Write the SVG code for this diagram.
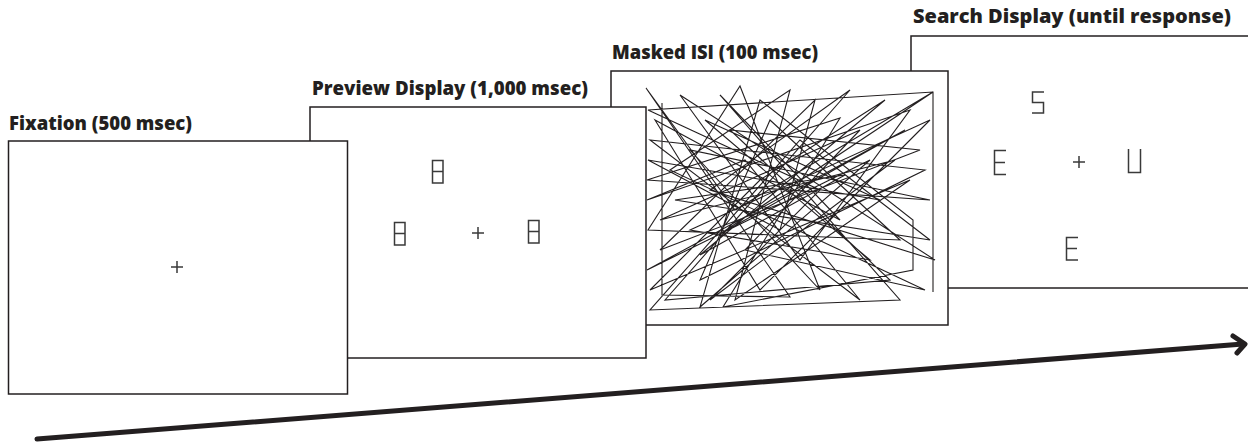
<svg xmlns="http://www.w3.org/2000/svg" width="1248" height="442" viewBox="0 0 1248 442">
<style>
.frame{fill:#fff;stroke:#231f20;stroke-width:1.5}
.lbl{font-family:"Open Sans","Liberation Sans",sans-serif;font-weight:800;font-size:19.5px;fill:#231f20}
.gl{fill:none;stroke:#3a3a3a;stroke-width:1.5}
.noise{fill:none;stroke:#231f20;stroke-width:1.1;stroke-linejoin:miter}
</style>
<rect width="1248" height="442" fill="#fff"/>
<g id="search">
<rect class="frame" x="911" y="36" width="345" height="252"/>
<text class="lbl" x="913" y="23" textLength="318" lengthAdjust="spacingAndGlyphs">Search Display (until response)</text>
<path class="gl" d="M1044,92 H1032.5 V102.5 H1043.5 V113 H1032"/>
<path class="gl" d="M1006,150.5 H994.5 V174.5 H1006 M994.5,162.5 H1005"/>
<path class="gl" d="M1073,162 H1085 M1079,156 V168"/>
<path class="gl" d="M1128.5,149 V172.5 H1140.5 V149"/>
<path class="gl" d="M1078,237.5 H1066.5 V260 H1078 M1066.5,248.5 H1077"/>
</g>
<g id="masked-isi">
<rect class="frame" x="611" y="71" width="337" height="254"/>
<text class="lbl" x="612" y="59" textLength="206" lengthAdjust="spacingAndGlyphs">Masked ISI (100 msec)</text>
<polyline class="noise" points="662,103 662,295 790,297 646,88 735,210 933,92 720,234 905,130 647,270 870,160 700,307 760,100 913,220 913,270 723,307 840,118 647,180 930,200 690,150 820,290 740,86 648,230 900,240 770,120 700,280 925,170 650,140 860,300 745,160 647,200 910,110 800,260 680,95 935,260 710,190 850,90 665,300 890,280 730,130 920,150 660,250 815,100 780,230 648,160 880,200 705,120 870,260 690,230 930,120 760,290 655,120 840,220 720,95 900,300 650,310 800,140 930,240 675,200 845,175 700,255 885,100 760,180 650,290 910,180 735,300 790,90 670,170 925,290 745,250 860,130 660,220 895,160 710,300 820,190 648,110 933,92 933,292"/>
</g>
<g id="preview">
<rect class="frame" x="310" y="107" width="336" height="251"/>
<text class="lbl" x="312" y="95" textLength="276" lengthAdjust="spacingAndGlyphs">Preview Display (1,000 msec)</text>
<path class="gl" d="M432.5,160.5 H443 V183 H432.5 Z M432.5,171.5 H443"/>
<path class="gl" d="M394.5,222.5 H405 V245 H394.5 Z M394.5,233.5 H405"/>
<path class="gl" d="M528.5,220.5 H539 V243 H528.5 Z M528.5,231.5 H539"/>
<path class="gl" d="M472,233 H484 M478,227 V239"/>
</g>
<g id="fixation">
<rect class="frame" x="8.5" y="141" width="339" height="253"/>
<text class="lbl" x="9" y="130" textLength="183" lengthAdjust="spacingAndGlyphs">Fixation (500 msec)</text>
<path class="gl" d="M171,267 H183 M177,261 V273"/>
</g>
<g id="connectors">
<path d="M37,439 L1243,344" fill="none" stroke="#231f20" stroke-width="5" stroke-linecap="round"/>
<path d="M1233,336 L1245,344 L1237,353" fill="none" stroke="#231f20" stroke-width="5" stroke-linecap="round" stroke-linejoin="round"/>
</g>
</svg>
